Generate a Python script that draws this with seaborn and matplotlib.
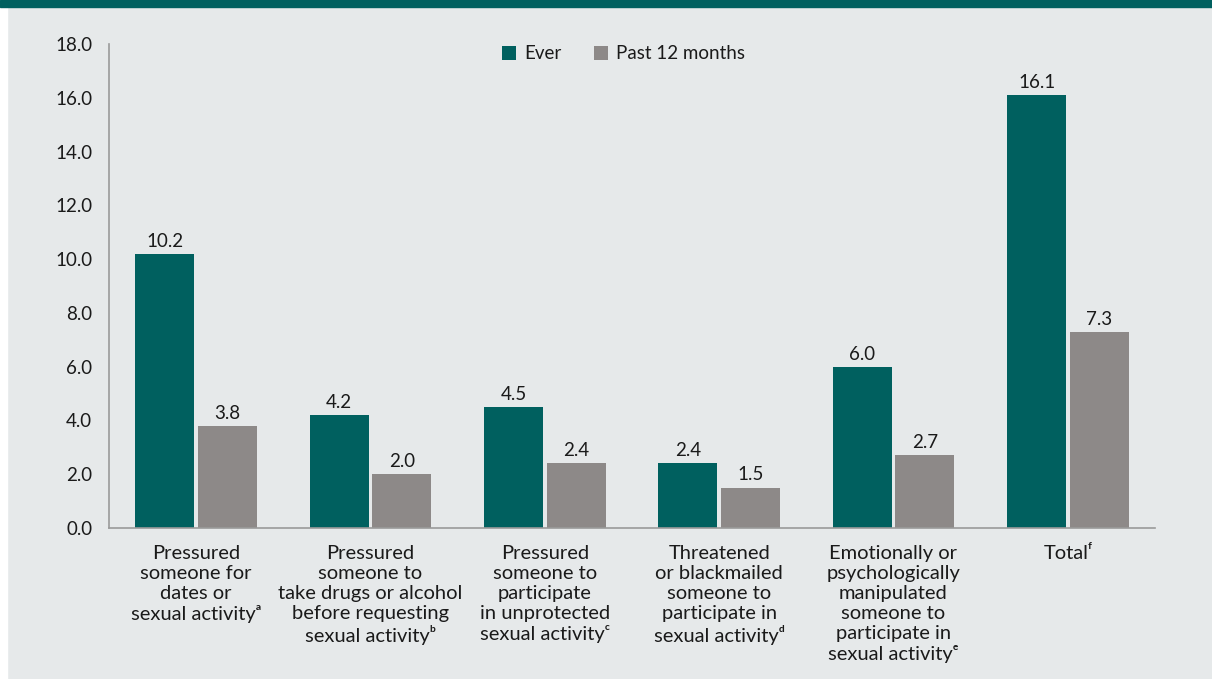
import matplotlib
matplotlib.use("Agg")
import matplotlib.pyplot as plt
import seaborn as sns
import pandas as pd
from matplotlib.patches import Rectangle

categories = [
    "Pressured\nsomeone for\ndates or\nsexual activity\u1d43",
    "Pressured\nsomeone to\ntake drugs or alcohol\nbefore requesting\nsexual activity\u1d47",
    "Pressured\nsomeone to\nparticipate\nin unprotected\nsexual activity\u1d9c",
    "Threatened\nor blackmailed\nsomeone to\nparticipate in\nsexual activity\u1d48",
    "Emotionally or\npsychologically\nmanipulated\nsomeone to\nparticipate in\nsexual activity\u1d49",
    "Total\u1da0",
]
ever = [10.2, 4.2, 4.5, 2.4, 6.0, 16.1]
past12 = [3.8, 2.0, 2.4, 1.5, 2.7, 7.3]
series_names = ["Ever", "Past 12 months"]
yticks = [0, 2, 4, 6, 8, 10, 12, 14, 16, 18]

TEAL = "#00605F"
GRAY = "#8D8988"
BG = "#E6E9EA"
TEXT = "#1a1a1a"

df = pd.DataFrame({
    "category": categories * 2,
    "value": ever + past12,
    "series": [series_names[0]] * len(categories) + [series_names[1]] * len(categories),
})

sns.set_theme(style="white")
plt.rcParams["font.family"] = ["Lato", "DejaVu Sans"]

W, H = 1212, 679
fig = plt.figure(figsize=(W / 100, H / 100), dpi=100, facecolor=BG)
# white left strip and teal top banner
fig.patches.append(Rectangle((0, 0), 7 / W, 1, transform=fig.transFigure, color="white", zorder=0))
fig.patches.append(Rectangle((0, 1 - 7 / H), 1, 7 / H, transform=fig.transFigure, color=TEAL, zorder=1))

ax = fig.add_axes([109 / W, 1 - 528 / H, 1046 / W, (528 - 44) / H])
ax.set_facecolor(BG)

sns.barplot(data=df, x="category", y="value", hue="series", palette=[TEAL, GRAY],
            saturation=1, width=0.717, gap=0.056, ax=ax, errorbar=None,
            linewidth=0, edgecolor="none")

for cont in ax.containers:
    ax.bar_label(cont, fmt="%.1f", padding=3, fontsize=13.5, color=TEXT)

ax.set_ylim(0, 18)
ax.set_xlim(-0.5, 5.5)
ax.set_yticks(yticks)
ax.set_yticklabels([f"{v:.1f}" for v in yticks], fontsize=13.5, color=TEXT)
ax.tick_params(axis="y", length=0, pad=12)
ax.tick_params(axis="x", length=0, pad=12.5)
for lbl in ax.get_xticklabels():
    lbl.set_fontsize(14.5)
    lbl.set_color(TEXT)
    lbl.set_linespacing(1.2)
    lbl.set_ha("center")
ax.set_xlabel("")
ax.set_ylabel("")

for s in ["top", "right"]:
    ax.spines[s].set_visible(False)
for s in ["left", "bottom"]:
    ax.spines[s].set_color("#9a9a9a")
    ax.spines[s].set_linewidth(1.2)

leg = ax.legend(loc="center", bbox_to_anchor=(0.492, 0.98), ncol=2, frameon=False,
                fontsize=13.5, handlelength=0.75, handleheight=0.75, handletextpad=0.45,
                columnspacing=1.7, title=None)
for t in leg.get_texts():
    t.set_color(TEXT)

fig.savefig("out.png", dpi=100, facecolor=BG)
